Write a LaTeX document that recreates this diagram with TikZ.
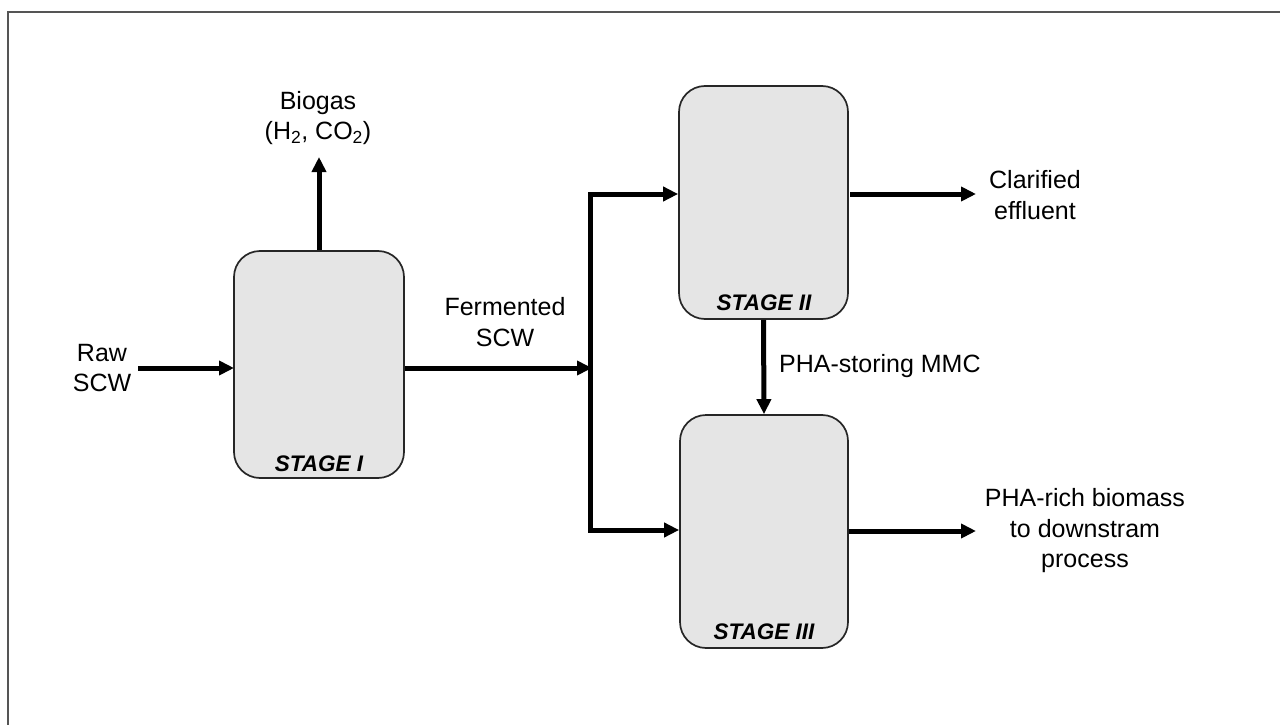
\documentclass[tikz,border=0pt]{standalone}
\usepackage{fontspec}
\setmainfont{Liberation Sans}
\usetikzlibrary{arrows.meta}
\definecolor{boxfill}{HTML}{E5E5E5}
\definecolor{frame}{HTML}{555555}
\begin{document}
\begin{tikzpicture}[x=1pt,y=-1pt,
  stagebox/.style={draw=black!85,line width=1.7pt,fill=boxfill,rounded corners=26pt,inner sep=0pt},
  stagelbl/.style={font=\fontsize{22.5}{26}\selectfont\bfseries\itshape,inner sep=0pt},
  txt/.style={font=\fontsize{25}{30.5}\selectfont,align=center,inner sep=0pt},
  flow/.style={line width=5pt,-{Triangle[length=15pt,width=14pt]}},
  plainflow/.style={line width=5pt}]
\useasboundingbox (0,0) rectangle (1280,725);
% frame
\draw[frame,line width=2pt] (8,725) -- (8,12) -- (1280,12);
% stages
\node[stagebox,minimum width=170pt,minimum height=227pt] (s1) at (319,364.5) {};
\node[stagebox,minimum width=169pt,minimum height=233pt] (s2) at (763.5,202.5) {};
\node[stagebox,minimum width=168pt,minimum height=233pt] (s3) at (764,531.5) {};
\node[stagelbl] (l1) at (319,464) {STAGE I};
\node[stagelbl] (l2) at (764,303) {STAGE II};
\node[stagelbl] (l3) at (764,632) {STAGE III};
% texts
\node[txt] (raw) at (102,368) {Raw\\SCW};
\node[txt] (bio) at (318,118) {Biogas\\(H\textsubscript{2}, CO\textsubscript{2})};
\node[txt] (ferm) at (505,322) {Fermented\\SCW};
\node[txt] (clar) at (1035,195) {Clarified\\effluent};
\node[txt,anchor=west] (mmc) at (779,366) {PHA-storing MMC};
\node[txt] (rich) at (1085,531) {PHA-rich biomass\\to downstram\\process};
% coordinates
\coordinate (rawend) at (138,368);
\coordinate (s1in) at (234,368);
\coordinate (s1out) at (405,368);
\coordinate (j) at (592,368);
\coordinate (jt) at (590,194);
\coordinate (jb) at (590,530);
\coordinate (bioend) at (319,157);
\coordinate (s2out) at (850,194);
\coordinate (clarend) at (976,194);
\coordinate (s3out) at (849,531);
\coordinate (richend) at (976,531);
% connectors
\draw[flow] (rawend) -- (s1in);
\draw[flow] (s1.north -| bioend) -- (bioend);
\draw[flow] (s1out) -- (j);
\draw[plainflow,line cap=rect] (jt) -- (jb);
\draw[flow] (jt) -- (jt -| s2.west);
\draw[flow] (jb) -- (jb -| s3.west);
\draw[flow] (s2out) -- (clarend);
\draw[flow] (s2.south) -- (s3.north);
\draw[flow] (s3out) -- (richend);
\end{tikzpicture}
\end{document}
